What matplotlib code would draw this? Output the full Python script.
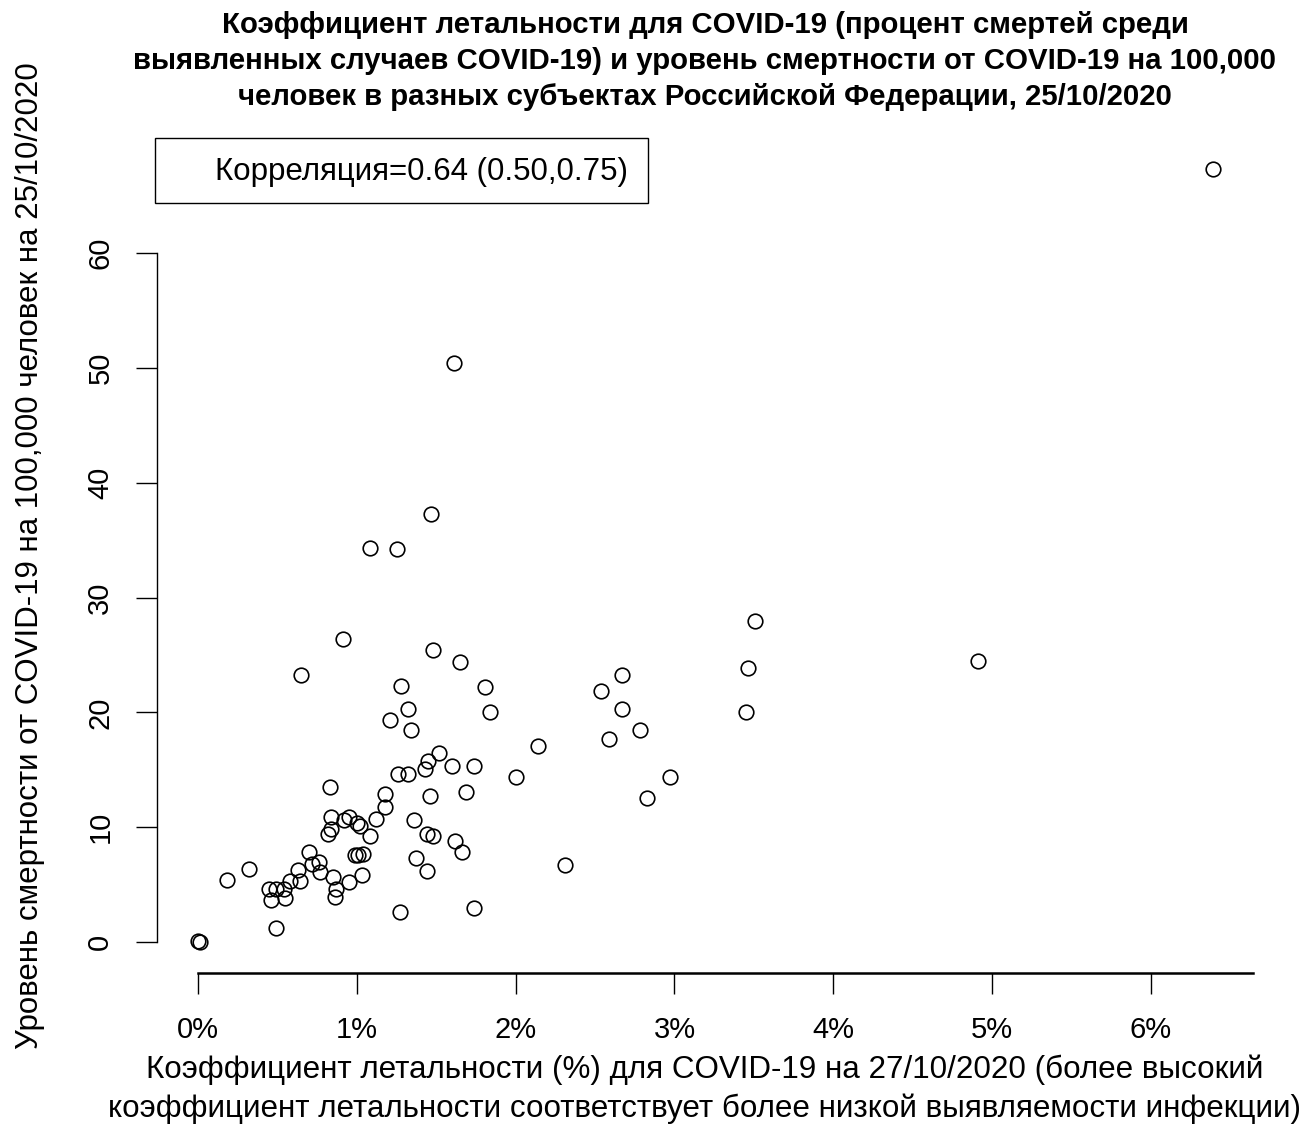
import matplotlib
matplotlib.use("Agg")
import matplotlib.pyplot as plt
from matplotlib.patches import Rectangle

# CFR (%) by federal subject, 27/10/2020
cfr = [6.39, 1.61, 1.47, 1.08, 1.25, 3.51, 0.91, 1.48, 4.91, 1.65,
       3.46, 0.65, 2.67, 1.28, 1.81, 2.54, 2.67, 1.32, 1.84, 3.45,
       1.21, 1.34, 2.78, 2.59, 2.14, 1.52, 1.45, 1.43, 1.60, 1.74,
       1.26, 1.32, 2.00, 2.97, 0.83, 1.46, 1.69, 1.18, 2.83, 1.18,
       0.84, 0.95, 0.92, 1.00, 1.02, 1.12, 1.36, 0.84, 0.82, 1.08,
       1.44, 1.48, 1.62, 1.66, 0.70, 0.99, 1.01, 1.04, 1.37, 0.76,
       0.72, 0.32, 2.31, 0.63, 0.77, 1.44, 0.85, 1.03, 0.18, 0.58,
       0.64, 0.95, 0.45, 0.49, 0.54, 0.87, 0.46, 0.55, 0.86, 1.27,
       1.74, 0.49, 0.00, 0.01]

# deaths per 100,000, 25/10/2020
mortality = [67.3, 50.4, 37.3, 34.3, 34.2, 28.0, 26.4, 25.4, 24.5, 24.4,
             23.9, 23.3, 23.3, 22.3, 22.2, 21.9, 20.3, 20.3, 20.0, 20.0,
             19.3, 18.5, 18.5, 17.7, 17.1, 16.5, 15.8, 15.1, 15.3, 15.3,
             14.6, 14.6, 14.4, 14.4, 13.5, 12.7, 13.1, 12.9, 12.5, 11.8,
             10.9, 10.9, 10.6, 10.4, 10.1, 10.7, 10.6, 9.8, 9.4, 9.2,
             9.4, 9.2, 8.8, 7.8, 7.8, 7.6, 7.6, 7.7, 7.3, 7.0,
             6.8, 6.4, 6.7, 6.3, 6.1, 6.2, 5.7, 5.8, 5.4, 5.3,
             5.3, 5.2, 4.6, 4.6, 4.6, 4.6, 3.7, 3.8, 3.9, 2.6,
             3.0, 1.2, 0.1, 0.0]

x_ticks = [0, 1, 2, 3, 4, 5, 6]
x_tick_labels = ["0%", "1%", "2%", "3%", "4%", "5%", "6%"]
y_ticks = [0, 10, 20, 30, 40, 50, 60]

title = ("Коэффициент летальности для COVID-19 (процент смертей среди\n"
         "выявленных случаев COVID-19) и уровень смертности от COVID-19 на 100,000\n"
         "человек в разных субъектах Российской Федерации, 25/10/2020")
x_label = ("Коэффициент летальности (%) для COVID-19 на 27/10/2020 (более высокий\n"
           "коэффициент летальности соответствует более низкой выявляемости инфекции)")
y_label = "Уровень смертности от COVID-19 на 100,000 человек на 25/10/2020"
corr_text = "Корреляция=0.64 (0.50,0.75)"

plt.rcParams["font.family"] = ["Liberation Sans", "DejaVu Sans"]

W, H = 1314, 1125
fig = plt.figure(figsize=(W / 100, H / 100), dpi=100)
ax = fig.add_axes([0.1198, 0.1352, 0.8341, 0.7417])

ax.plot(cfr, mortality, linestyle="none", marker="o", markersize=10.5,
        markerfacecolor="none", markeredgecolor="black", markeredgewidth=1.2)

# R-style 4% padding around data range
xmin, xmax = min(cfr), max(cfr)
ymin, ymax = min(mortality), max(mortality)
ax.set_xlim(xmin - 0.04 * (xmax - xmin), xmax + 0.04 * (xmax - xmin))
ax.set_ylim(ymin - 0.04 * (ymax - ymin), ymax + 0.04 * (ymax - ymin))

for side in ("top", "right"):
    ax.spines[side].set_visible(False)
ax.spines["left"].set_bounds(y_ticks[0], y_ticks[-1])
ax.spines["bottom"].set_bounds(x_ticks[0], ax.get_xlim()[1])
ax.spines["left"].set_linewidth(1.0)
ax.spines["bottom"].set_linewidth(1.8)

ax.set_xticks(x_ticks)
ax.set_xticklabels(x_tick_labels)
ax.set_yticks(y_ticks)
ax.set_yticklabels([str(v) for v in y_ticks], rotation=90, va="center")
ax.tick_params(axis="both", direction="out", length=15, width=1.0,
               labelsize=21, pad=16)

fig.text(0.5365, 1 - 61 / H, title, ha="center", va="center",
         fontsize=21.2, fontweight="bold", linespacing=1.36)
fig.text(0.5365, 1 - 1089 / H, x_label, ha="center", va="center",
         fontsize=22.6, linespacing=1.36)
fig.text(30 / W, 1 - 556 / H, y_label, ha="center", va="center",
         rotation=90, fontsize=22.5)

fig.patches.append(Rectangle((155 / W, 1 - 203 / H), (648 - 155) / W, 65 / H,
                             transform=fig.transFigure, fill=False,
                             edgecolor="black", linewidth=1.0))
fig.text(215 / W, 1 - 172 / H, corr_text, ha="left", va="center", fontsize=22.5)

fig.savefig("out.png", dpi=100)
